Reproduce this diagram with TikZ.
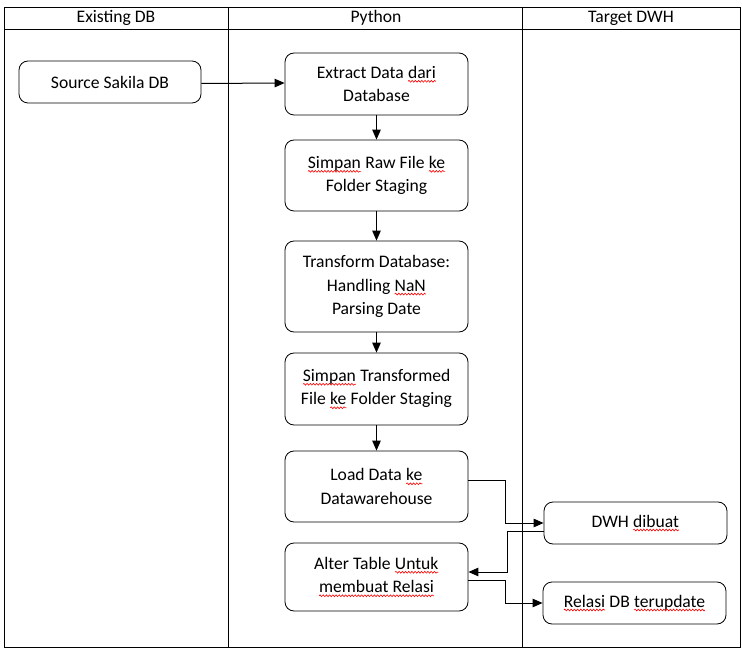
\documentclass[tikz,border=0pt]{standalone}
\usepackage{fontspec}
\setmainfont{Carlito}
\usetikzlibrary{arrows.meta,decorations.pathmorphing}
\newcommand\sq[1]{\tikz[baseline=(sqw.base),sharp corners]{\node[inner sep=0pt,outer sep=0pt,minimum width=0pt,minimum height=0pt,draw=none] (sqw) {#1};\draw[red, sharp corners, line width=0.6pt, decorate, decoration={snake, amplitude=0.9pt, segment length=3.2pt}] ([yshift=-3pt]sqw.base west) -- ([yshift=-3pt]sqw.base east);}}
\tikzset{
  box/.style={draw, line width=0.8pt, rounded corners=9pt, align=center, minimum width=183pt, inner sep=2pt},
  arr/.style={line width=1pt, -{Triangle[length=10pt,width=8.5pt]}},
  grid/.style={line width=0.8pt},
  hdr/.style={inner sep=0pt}
}
\begin{document}
\begin{tikzpicture}[x=1pt, y=-1pt, font=\fontsize{17.6}{23.5}\selectfont]
\useasboundingbox (0,0) rectangle (742,652);
% table
\draw[grid] (4,7) rectangle (740,647);
\draw[grid] (4,29) -- (740,29);
\draw[grid] (228,7) -- (228,647);
\draw[grid] (522,7) -- (522,647);
\node[hdr] (h1) at (116,18) {Existing DB};
\node[hdr] (h2) at (376,18) {Python};
\node[hdr] (h3) at (631,18) {Target DWH};
% nodes
\node[box, minimum width=182pt, minimum height=42pt] (src) at (110,82) {Source Sakila DB};
\node[box, minimum height=62pt] (ext) at (376.5,84) {Extract Data \sq{dari}\\Database};
\node[box, minimum height=71pt] (raw) at (376.5,175.5) {\sq{Simpan} Raw File \sq{ke}\\Folder Staging};
\node[box, minimum height=91pt] (trf) at (376.5,286.5) {Transform Database:\\Handling \sq{NaN}\\Parsing Date};
\node[box, minimum height=72pt] (sav) at (376.5,389) {\sq{Simpan} Transformed\\File \sq{ke} Folder Staging};
\node[box, minimum height=71pt] (load) at (376.5,486.5) {Load Data \sq{ke}\\Datawarehouse};
\node[box, minimum height=68pt] (alt) at (376.5,577) {Alter Table \sq{Untuk}\\\sq{membuat Relasi}};
\node[box, minimum height=42pt] (dwh) at (635.5,523) {DWH \sq{dibuat}};
\node[box, minimum height=42pt] (rel) at (634.5,603) {\sq{Relasi} DB \sq{terupdate}};
% connectors
\draw[arr] ([yshift=-1.5pt]src.east) -- ([yshift=1pt]ext.west);
\draw[arr] (ext) -- (raw);
\draw[arr] (raw) -- (trf);
\draw[arr] (trf) -- (sav);
\draw[arr] (sav) -- (load);
\draw[arr] ([yshift=6pt]load.east) -- ++(37,0) |- (dwh.west);
\draw[arr] ([yshift=-8pt]dwh.west) -- ++(-36,0) |- ([yshift=5pt]alt.east);
\draw[arr] ([yshift=-3pt]alt.east) -- ++(37,0) |- (rel.west);
\end{tikzpicture}
\end{document}
